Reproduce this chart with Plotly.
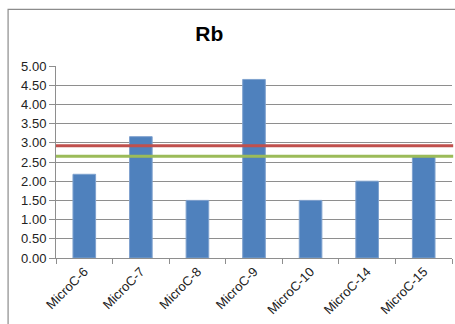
import plotly.graph_objects as go

# Rb ratios per sample, with two reference levels
samples = ["MicroC-6", "MicroC-7", "MicroC-8", "MicroC-9", "MicroC-10", "MicroC-14", "MicroC-15"]
rb_values = [2.18, 3.16, 1.50, 4.65, 1.50, 2.00, 2.67]
red_level = 2.92
green_level = 2.65
y_ticks = [0.0, 0.5, 1.0, 1.5, 2.0, 2.5, 3.0, 3.5, 4.0, 4.5, 5.0]

FONT = "Liberation Sans"
GRID = "#8e8e8e"

fig = go.Figure()
fig.add_trace(go.Bar(
    x=samples,
    y=rb_values,
    marker=dict(color="#4F81BD", line=dict(color="#7FA2CF", width=1)),
    width=0.4,
    showlegend=False,
))

# horizontal reference levels spanning the whole plot width
for level, color in [(red_level, "#C0504D"), (green_level, "#9BBB59")]:
    fig.add_shape(type="line", xref="x domain", yref="y",
                  x0=0, x1=1.003, y0=level, y1=level,
                  line=dict(color=color, width=3), layer="above")

# chart-area frame
fig.add_shape(type="rect", xref="paper", yref="paper",
              x0=-0.121, x1=1.1, y0=-0.4, y1=1.295,
              line=dict(color="#8c8c8c", width=1.2), layer="below")

fig.update_layout(
    width=455, height=324,
    margin=dict(l=56, r=3, t=66, b=66),
    paper_bgcolor="white",
    plot_bgcolor="white",
    font=dict(family=FONT, size=13, color="#222222"),
    title=dict(text="<b>Rb</b>", x=0.46, xanchor="center", y=0.895, yanchor="middle",
               font=dict(family=FONT, size=21, color="#000000")),
    xaxis=dict(
        type="category",
        tickangle=-45,
        ticks="outside",
        tickson="boundaries",
        ticklen=5,
        tickcolor=GRID,
        showline=True,
        linecolor=GRID,
        showgrid=False,
        tickfont=dict(family=FONT, size=13, color="#222222"),
    ),
    yaxis=dict(
        range=[0, 5.0],
        tickvals=y_ticks,
        ticktext=[f"{v:.2f}" for v in y_ticks],
        ticks="outside",
        ticklen=6,
        tickcolor=GRID,
        showline=True,
        linecolor=GRID,
        showgrid=True,
        gridcolor=GRID,
        gridwidth=1,
        zeroline=False,
        tickfont=dict(family=FONT, size=13, color="#222222"),
    ),
)

fig.write_html("out.html")
